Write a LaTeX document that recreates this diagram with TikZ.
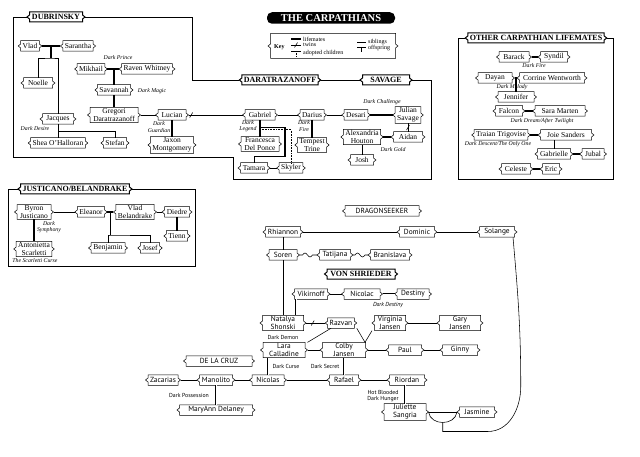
\documentclass[tikz,border=0pt]{standalone}
\usepackage{fontspec}
\setmainfont{Liberation Serif}
\newfontfamily\sansfam{PT Sans}
\usetikzlibrary{calc}
\newcommand{\tagframe}[2][]{%
  \draw[line width=0.5pt,#1] ([xshift=2.5pt]#2.north west) -- ([xshift=-2.5pt]#2.north east)
    -- ([xshift=-2.5pt,yshift=2pt]#2.east) -- (#2.east) -- ([xshift=-2.5pt,yshift=-2pt]#2.east)
    -- ([xshift=-2.5pt]#2.south east) -- ([xshift=2.5pt]#2.south west)
    -- ([xshift=2.5pt,yshift=-2pt]#2.west) -- (#2.west) -- ([xshift=2.5pt,yshift=2pt]#2.west) -- cycle;}

\begin{document}
\begin{tikzpicture}[x=1pt, y=-1pt,
  every node/.style={font=\fontsize{7.5}{8}\selectfont},
  person/.style={align=center, inner xsep=2pt, inner ysep=1pt, outer xsep=2.5pt, outer ysep=0pt, minimum height=10.5pt},
  sperson/.style={person, font=\sansfam\fontsize{7.4}{8}\selectfont},
  family/.style={person, font=\bfseries\fontsize{8}{8}\selectfont, minimum height=10pt},
  note/.style={font=\itshape\fontsize{5.8}{6.3}\selectfont, align=center, inner sep=0pt},
  snote/.style={font=\sansfam\fontsize{5.8}{6.3}\selectfont, align=center, inner sep=0pt},
  keytxt/.style={font=\fontsize{6}{6}\selectfont, inner sep=0pt, anchor=west},
  kin/.style={line width=0.55pt},
  mate/.style={line width=1.6pt},
  wed/.style={double, double distance=1pt, line width=0.6pt},
  kid/.style={line width=1.6pt},
  adopt/.style={line width=0.6pt, densely dotted},
  frame/.style={line width=0.6pt}]
\fill[white] (0,0) rectangle (640,457);

\node[fill=black, text=white, rounded corners=5pt, font=\bfseries\fontsize{10.5}{11}\selectfont, minimum width=128pt, minimum height=11.5pt, inner sep=1pt] (title) at (331,18) {THE CARPATHIANS};
\node[person, minimum width=125pt, minimum height=25pt] (key) at (333,46) {};
\node[keytxt, font=\bfseries\fontsize{6}{6}\selectfont] (keyword) at (274,47) {Key};
\draw[mate] (291,39) -- (301,39);
\node[keytxt] (klife) at (303,39) {lifemates};
\draw[kin] (291,45) -- (301,45);
\draw[kin] (294.5,47.5) -- (297.5,42.5);
\node[keytxt] (ktwin) at (303,45) {twins};
\draw[kin] (291,51) -- (301,51);
\draw[adopt] (296,51) -- (296,56);
\node[keytxt] (kadopt) at (303,53) {adopted children};
\draw[kin] (357,42) -- (366,42);
\node[keytxt] (ksib) at (368,42) {siblings};
\draw[kin] (357,47) -- (366,47);
\draw[kid] (361.5,47) -- (361.5,52);
\node[keytxt] (koff) at (368,48) {offspring};

\node[family, minimum width=53pt] (dubrinsky) at (56,17) {DUBRINSKY};
\node[family] (daratrazanoff) at (280,80) {DARATRAZANOFF};
\node[family, minimum width=47pt] (savage) at (386,80) {SAVAGE};
\node[family] (others) at (536,38) {OTHER CARPATHIAN LIFEMATES};
\node[family] (justicano) at (75,189) {JUSTICANO/BELANDRAKE};
\node[family, minimum width=68pt] (vonshrieder) at (361,274) {VON SHRIEDER};
\node[sperson, minimum width=74pt] (dragonseeker) at (382,211) {DRAGONSEEKER};
\node[sperson, minimum width=66pt] (delacruz) at (219,361) {DE LA CRUZ};

\node[person] (vlad) at (30,46) {Vlad};
\node[person, minimum width=27pt] (sarantha) at (78,46) {Sarantha};
\node[person, minimum width=29pt] (noelle) at (38,83) {Noelle};
\node[person, minimum width=26pt] (mikhail) at (91,69) {Mikhail};
\node[person, minimum width=49pt] (raven) at (147,69) {Raven Whitney};
\node[person, minimum width=32pt] (savannah) at (114,90) {Savannah};
\node[person, minimum width=48pt] (gregori) at (114,115) {Gregori\\Daratrazanoff};
\node[person, minimum width=28pt] (lucian) at (172,115) {Lucian};
\node[person, minimum width=42pt] (jaxon) at (172,145) {Jaxon\\Montgomery};
\node[person, minimum width=31pt] (jacques) at (58,119) {Jacques};
\node[person, minimum width=52pt] (shea) at (58,143) {Shea O'Halloran};
\node[person, minimum width=20pt] (stefan) at (115,143) {Stefan};
\node[person, minimum width=30pt] (gabriel) at (260,115) {Gabriel};
\node[person, minimum width=22pt] (darius) at (312,115) {Darius};
\node[person, minimum width=21pt] (desari) at (356,115) {Desari};
\node[person, minimum width=25pt] (julian) at (408,115) {Julian\\Savage};
\node[person, minimum width=33pt] (alexandria) at (362,137) {Alexandria\\Houton};
\node[person, minimum width=29pt] (aidan) at (408,137) {Aidan};
\node[person, minimum width=23pt] (josh) at (362,160) {Josh};
\node[person, minimum width=27pt] (tempest) at (312,145) {Tempest\\Trine};
\node[person, minimum width=38pt] (francesca) at (260,144) {Francesca\\Del Ponce};
\node[person, minimum width=27pt] (tamara) at (254,168) {Tamara};
\node[person, minimum width=21pt] (skyler) at (291,168) {Skyler};

\node[person, minimum width=30pt] (barack) at (514,57) {Barack};
\node[person, minimum width=27pt] (syndil) at (554,57) {Syndil};
\node[person, minimum width=34pt] (dayan) at (495,78) {Dayan};
\node[person, minimum width=65pt] (corrine) at (552,78) {Corrine Wentworth};
\node[person, minimum width=36pt] (jennifer) at (516,97) {Jennifer};
\node[person, minimum width=27pt] (falcon) at (509,111) {Falcon};
\node[person, minimum width=50pt] (sara) at (560,111) {Sara Marten};
\node[person, minimum width=53pt] (traian) at (501,135) {Traian Trigovise};
\node[person, minimum width=51pt] (joie) at (566,135) {Joie Sanders};
\node[person, minimum width=33pt] (gabrielle) at (554,154) {Gabrielle};
\node[person, minimum width=22pt] (jubal) at (593,154) {Jubal};
\node[person, minimum width=29pt] (celeste) at (516,169) {Celeste};
\node[person, minimum width=17pt] (eric) at (551,169) {Eric};

\node[person, minimum width=34pt] (byron) at (34,212) {Byron\\Justicano};
\node[person, minimum width=27pt] (eleanor) at (91,212) {Eleanor};
\node[person, minimum width=35pt] (vladb) at (135,212) {Vlad\\Belandrake};
\node[person, minimum width=25pt] (diedre) at (177,212) {Diedre};
\node[person, minimum width=20pt] (tienn) at (177,236) {Tienn};
\node[person, minimum width=34pt] (antonietta) at (34,249) {Antonietta\\Scarletti};
\node[person, minimum width=34pt] (benjamin) at (108,248) {Benjamin};
\node[person, minimum width=15pt] (josef) at (150,248) {Josef};

\node[sperson, minimum width=35pt] (rhiannon) at (283,232) {Rhiannon};
\node[sperson, minimum width=35pt] (dominic) at (417,232) {Dominic};
\node[sperson, minimum width=35pt] (solange) at (497,232) {Solange};
\node[sperson, minimum width=28pt] (soren) at (283,255) {Soren};
\node[sperson, minimum width=31pt] (tatijana) at (335,255) {Tatijana};
\node[sperson, minimum width=39pt] (branislava) at (390,255) {Branislava};
\node[sperson, minimum width=33pt] (vikirnoff) at (311,294) {Vikirnoff};
\node[sperson, minimum width=36pt] (nicolac) at (362,294) {Nicolac};
\node[sperson, minimum width=32pt] (destiny) at (413,294) {Destiny};
\node[sperson, minimum width=41pt] (natalya) at (283,323) {Natalya\\Shonski};
\node[sperson, minimum width=26pt] (razvan) at (341,323) {Razvan};
\node[sperson, minimum width=31pt] (virginia) at (390,323) {Virginia\\Jansen};
\node[sperson, minimum width=41pt] (gary) at (460,323) {Gary\\Jansen};
\node[sperson, minimum width=42pt] (lara) at (284,350) {Lara\\Calladine};
\node[sperson, minimum width=43pt] (colby) at (344,350) {Colby\\Jansen};
\node[sperson, minimum width=33pt] (paul) at (405,350) {Paul};
\node[sperson, minimum width=35pt] (ginny) at (460,350) {Ginny};
\node[sperson, minimum width=30pt] (zacarias) at (163,380) {Zacarias};
\node[sperson, minimum width=33pt] (manolito) at (216,380) {Manolito};
\node[sperson, minimum width=32pt] (nicolas) at (268,380) {Nicolas};
\node[sperson, minimum width=29pt] (rafael) at (344,380) {Rafael};
\node[sperson, minimum width=35pt] (riordan) at (407,380) {Riordan};
\node[sperson, minimum width=42pt] (juliette) at (405,412) {Juliette\\Sangria};
\node[sperson, minimum width=35pt] (jasmine) at (477,412) {Jasmine};
\node[sperson, minimum width=73pt] (maryann) at (216,410) {MaryAnn Delaney};

\node[note] (nprince) at (118,58) {Dark Prince};
\node[note] (nmagic) at (152,91) {Dark Magic};
\node[note] (ndesire) at (35,129) {Dark Desire};
\node[note] (nguardian) at (159,127) {Dark\\Guardian};
\node[note] (nlegend) at (248,126) {Dark\\Legend};
\node[note] (nfire) at (304,126) {Dark\\Fire};
\node[note] (nchallenge) at (382,102) {Dark Challenge};
\node[note] (ngold) at (393,150) {Dark Gold};
\node[note] (nsymphony) at (49,227) {Dark\\Symphony};
\node[note] (nscarletti) at (35,261) {The Scarletti Curse};
\node[note] (nfire2) at (534,66) {Dark Fire};
\node[note] (nmelody) at (512,87) {Dark Melody};
\node[note] (ndream) at (542,121) {Dark Dream/After Twilight};
\node[note] (ndescent) at (498,144) {Dark Descent/The Only One};
\node[snote, font=\sansfam\itshape\fontsize{5.8}{6.3}\selectfont] (ndestiny) at (388,305) {Dark Destiny};
\node[snote] (ndemon) at (283,337) {Dark Demon};
\node[snote] (ncurse) at (286,366) {Dark Curse};
\node[snote] (nsecret) at (325,366) {Dark Secret};
\node[snote] (nhunger) at (383,396) {Hot Blooded\\Dark Hunger};
\node[snote] (npossession) at (189,395) {Dark Possession};

\foreach \n in {vlad,sarantha,noelle,mikhail,raven,savannah,gregori,lucian,jaxon,jacques,shea,stefan,
  gabriel,darius,desari,julian,alexandria,aidan,josh,tempest,francesca,tamara,skyler,
  barack,syndil,dayan,corrine,jennifer,falcon,sara,traian,joie,gabrielle,jubal,celeste,eric,
  byron,eleanor,vladb,diedre,tienn,antonietta,benjamin,josef,key,dragonseeker,delacruz,
  rhiannon,dominic,solange,soren,tatijana,branislava,vikirnoff,nicolac,destiny,natalya,razvan,
  virginia,gary,lara,colby,paul,ginny,zacarias,manolito,nicolas,rafael,riordan,juliette,jasmine,maryann}
  {\tagframe{\n}}
\foreach \n in {dubrinsky,daratrazanoff,savage,others,justicano,vonshrieder}
  {\tagframe[line width=1pt]{\n}}

\draw[frame] (dubrinsky.east) -| (192,80) -- (daratrazanoff.west);
\draw[frame] (daratrazanoff) -- (savage);
\draw[frame] (savage.east) -| (431,179) -| (233,157) -| (13,17) -- (dubrinsky.west);
\draw[frame] (others.east) -| (613,179) -| (458,38) -- (others.west);
\draw[frame] (justicano.east) -| (195,266) -| (8,189) -- (justicano.west);

\draw[mate] (vlad) -- (sarantha);
\coordinate (vs) at ($(vlad.east)!.5!(sarantha.west)$);
\draw[kid] (vs) -- ++(0,12) coordinate (vsb);
\draw[kin] (noelle.north) |- (vsb) -| (jacques.north);
\draw[mate] (mikhail) -- (raven);
\draw[kid] (savannah.north) -- (savannah.north |- raven.west);
\draw[mate] (savannah) -- (gregori);
\draw[kin] (gregori) -- (lucian);
\draw[kin] (lucian) -- (gabriel) coordinate[pos=.05] (lg);
\draw[kin] (lg) +(-1.5,2.5) -- +(1.5,-2.5);
\draw[mate] (lucian) -- (jaxon);
\draw[kin] (jacques) -- (shea);
\draw[kin] ($(jacques.south)!.5!(shea.north)$) -| (stefan.north);

\draw[kin] (gabriel) -- (darius);
\draw[kin] (darius) -- (desari);
\draw[mate] (desari) -- (julian);
\draw[kin] (julian) -- (aidan) coordinate[pos=.5] (ja);
\draw[kin] (ja) +(-1.5,2.5) -- +(1.5,-2.5);
\draw[mate] (alexandria) -- (aidan);
\draw[kin] (alexandria) -- (josh);
\draw[mate] (darius) -- (tempest);
\draw[mate] (gabriel) -- (francesca);
\coordinate (gf) at ($(gabriel.south)!.45!(francesca.north)$);
\draw[kid] (gf) -- ++(25,0) -- ++(0,29) coordinate (gfb);
\draw[kin] (gfb) -| (tamara.north);
\draw[adopt] ([yshift=-2pt]gf) -| (skyler.north);
\draw[kin] (tamara) -- (skyler);

\draw[mate] (barack) -- (syndil);
\draw[mate] (dayan) -- (corrine);
\coordinate (dc) at ($(dayan.east)!.5!(corrine.west)$);
\draw[kid] (dc) -- (dc |- jennifer.north);
\draw[mate] (falcon) -- (sara);
\draw[mate] (traian) -- (joie);
\draw[kin] (gabrielle.north) -- (gabrielle.north |- joie.south);
\draw[mate] (gabrielle) -- (jubal);
\draw[mate] (celeste) -- (eric);

\draw[kin] (byron) -- (eleanor);
\draw[mate] (eleanor) -- (vladb);
\draw[kin] (vladb) -- (diedre);
\draw[mate] (diedre) -- (tienn);
\draw[mate] (byron) -- (antonietta);
\coordinate (ev) at ($(eleanor.east)!.5!(vladb.west)$);
\draw[kin] (ev) -- ++(0,23) coordinate (evb);
\draw[kin] (benjamin.north) |- (evb) -| (josef.north);

\draw[kin] (rhiannon) -- (dominic);
\draw[wed] (dominic) -- (solange);
\draw[kin] (rhiannon) -- (soren);
\draw[kin] (soren) -- (natalya);
\draw[kin] (soren.east) -- ++(3,0) sin ++(2.5,-2) cos ++(2.5,2) sin ++(2.5,2) cos ++(2.5,-2) -- (tatijana.west);
\draw[kin] (tatijana.east) -- ++(2,0) sin ++(2.5,-2) cos ++(2.5,2) sin ++(2.5,2) cos ++(2.5,-2) -- (branislava.west);
\draw[kin] (vikirnoff) -- (nicolac);
\draw[wed] (nicolac) -- (destiny);
\draw[wed] ([xshift=-15pt]vikirnoff.south) -- ([xshift=-15pt]vikirnoff.south |- natalya.north);
\draw[kin] (natalya) -- (razvan) coordinate[pos=.35] (nr);
\draw[kin] (nr) +(-1.5,2.5) -- +(1.5,-2.5);
\draw[kin] ([xshift=-10pt]razvan.south) -- (lara.north east);
\draw[kin] (razvan.south east) -- ([xshift=-3pt]colby.north east);
\draw[kin] (virginia.south west) -- ([xshift=-3pt]colby.north east);
\draw[kin] (virginia) -- (gary);
\draw[kin] (lara) -- (colby);
\draw[kin] (colby) -- (paul);
\draw[kin] (paul) -- (ginny);
\draw[wed] (nicolas.north) -- (nicolas.north |- lara.south);
\draw[wed] (colby) -- (rafael);
\draw[kin] (zacarias) -- (manolito);
\draw[kin] (manolito) -- (nicolas);
\draw[kin] (nicolas) -- (rafael);
\draw[kin] (rafael) -- (riordan);
\draw[wed] (manolito) -- (maryann);
\draw[wed] (juliette.north) -- (juliette.north |- riordan.south);
\draw[kin] (juliette.east) -- (jasmine.west);
\draw[kin] (juliette.east) .. controls +(2,14) and +(-2,14) .. (jasmine.west) coordinate[pos=.5] (jj);
\draw[kin] (jj) -- ++(0,9) -- ++(45,0) to[out=0, in=-90] ++(33,-45) to[out=90, in=-85] ([xshift=-4pt]solange.south east);
\end{tikzpicture}
\end{document}
